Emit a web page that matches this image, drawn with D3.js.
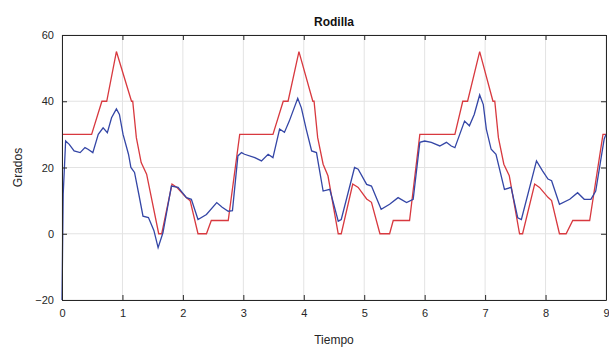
<!DOCTYPE html>
<html lang="es">
<head>
  <meta charset="UTF-8" />
  <title>Rodilla</title>
  <script src="https://d3js.org/d3.v7.min.js"></script>
  <style>
    body {
      margin: 0;
      background: #fff;
      font-family: "Liberation Sans", Arial, sans-serif;
    }
    .grid line { stroke: #e3e3e3; stroke-width: 1px; }
    .axis path, .axis line { stroke: #262626; }
    .axis text { fill: #262626; font-size: 11px; }
  </style>
</head>
<body>
  <svg id="chart" width="609" height="350"></svg>

  <script>
    // reference (desired) knee angle, red
    const refTime = [0, 0.49, 0.66, 0.74, 0.9, 1.15, 1.17, 1.23, 1.31, 1.4, 1.6, 1.65, 1.82, 1.9, 2.05, 2.12, 2.25, 2.39, 2.47, 2.75, 2.94,
      3.49, 3.66, 3.74, 3.92, 4.15, 4.17, 4.23, 4.32, 4.4, 4.57, 4.62, 4.81, 4.9, 5.04, 5.12, 5.26, 5.42, 5.48, 5.75, 5.92,
      6.5, 6.63, 6.71, 6.91, 7.13, 7.16, 7.22, 7.31, 7.4, 7.57, 7.62, 7.82, 7.9, 8.04, 8.1, 8.23, 8.34, 8.45, 8.73, 8.95, 9];
    const refAngle = [30, 30, 40, 40, 55, 40, 40, 29, 21.5, 18, 0, 0, 15, 14, 11, 10, 0, 0, 4, 4, 30,
      30, 40, 40, 55, 40, 40, 29, 21, 17.5, 0, 0, 15, 14, 10.5, 9.5, 0, 0, 4, 4, 30,
      30, 40, 40, 55, 40, 40, 29, 21, 17.5, 0, 0, 15, 14, 11, 10, 0, 0, 4, 4, 30, 30];

    // measured knee angle, blue
    const measTime = [0, 0.02, 0.06, 0.12, 0.2, 0.3, 0.38, 0.43, 0.51, 0.6, 0.68, 0.75, 0.82, 0.9, 0.95, 1.01, 1.1, 1.14, 1.2, 1.27, 1.34, 1.43, 1.52, 1.59, 1.67, 1.81, 1.92, 2.06, 2.14, 2.25, 2.39, 2.56, 2.65, 2.75, 2.82, 2.91, 2.97,
      3.02, 3.19, 3.3, 3.41, 3.49, 3.6, 3.68, 3.76, 3.9, 3.96, 4.04, 4.13, 4.21, 4.32, 4.43, 4.57, 4.62, 4.84, 4.9, 5.04, 5.12, 5.28, 5.42, 5.56, 5.7, 5.81, 5.92, 6.0,
      6.11, 6.25, 6.36, 6.44, 6.5, 6.66, 6.74, 6.82, 6.91, 6.97, 7.02, 7.1, 7.18, 7.32, 7.43, 7.54, 7.6, 7.85, 7.95, 8.04, 8.1, 8.23, 8.4, 8.53, 8.64, 8.75, 8.83, 8.97, 9];
    const measAngle = [-20, 12, 28, 27, 25, 24.5, 26, 25.5, 24.5, 30, 32, 30.5, 35, 37.7, 36, 30, 24, 20, 18.5, 12, 5.3, 4.9, 1, -4.2, 0.3, 14.4, 14, 10.9, 10.4, 4.3, 5.8, 9.4, 8, 6.8, 7, 23.5, 24.5,
      24, 23, 22, 24, 23, 31.6, 30.6, 34, 40.9, 38, 31.6, 25, 24.5, 12.9, 13.4, 3.8, 4.3, 20, 19.5, 14.9, 14.4, 7.4, 8.9, 10.9, 9.4, 10.4, 27.6, 28,
      27.6, 26.5, 27.6, 26.5, 26, 34, 32.6, 36, 41.9, 39, 31.6, 25.5, 24, 13.4, 14, 4.8, 4.3, 22, 19, 16.5, 16, 8.9, 10.4, 12.4, 10.4, 10.4, 12.9, 28.6, 30];

    const xTicks = [0, 1, 2, 3, 4, 5, 6, 7, 8, 9];
    const yTicks = [-20, 0, 20, 40, 60];

    const margin = { top: 35, right: 3, bottom: 50, left: 62 };
    const width = 609 - margin.left - margin.right;
    const height = 350 - margin.top - margin.bottom;

    const svg = d3.select("#chart");
    const g = svg.append("g").attr("transform", `translate(${margin.left},${margin.top})`);

    const x = d3.scaleLinear().domain([0, 9]).range([0, width]);
    const y = d3.scaleLinear().domain([-20, 60]).range([height, 0]);

    // grid
    g.append("g").attr("class", "grid")
      .selectAll("line.v").data(xTicks).enter().append("line")
      .attr("x1", d => x(d)).attr("x2", d => x(d))
      .attr("y1", 0).attr("y2", height);
    g.append("g").attr("class", "grid")
      .selectAll("line.h").data(yTicks).enter().append("line")
      .attr("x1", 0).attr("x2", width)
      .attr("y1", d => y(d)).attr("y2", d => y(d));

    const line = d3.line().x(d => x(d[0])).y(d => y(d[1]));

    const refData = refTime.map((t, i) => [t, refAngle[i]]);
    const measData = measTime.map((t, i) => [t, measAngle[i]]);

    g.append("path").datum(refData)
      .attr("d", line).attr("fill", "none")
      .attr("stroke", "#d8393f").attr("stroke-width", 1.3);

    g.append("path").datum(measData)
      .attr("d", line).attr("fill", "none")
      .attr("stroke", "#3446a6").attr("stroke-width", 1.3);

    // axes, matlab style (ticks inside, box on)
    g.append("g").attr("class", "axis")
      .attr("transform", `translate(0,${height})`)
      .call(d3.axisBottom(x).tickValues(xTicks).tickFormat(d3.format("d")).tickSizeInner(-5).tickSizeOuter(0).tickPadding(9));
    g.append("g").attr("class", "axis")
      .call(d3.axisLeft(y).tickValues(yTicks).tickSizeInner(-5).tickSizeOuter(0).tickPadding(8));
    g.append("g").attr("class", "axis")
      .call(d3.axisTop(x).tickValues(xTicks).tickFormat("").tickSizeInner(-5).tickSizeOuter(0));
    g.append("g").attr("class", "axis")
      .attr("transform", `translate(${width},0)`)
      .call(d3.axisRight(y).tickValues(yTicks).tickFormat("").tickSizeInner(-5).tickSizeOuter(0));

    // title and labels
    svg.append("text")
      .attr("x", margin.left + width / 2).attr("y", 26)
      .attr("text-anchor", "middle")
      .style("font-size", "12px").style("font-weight", "bold").style("fill", "#111")
      .text("Rodilla");

    svg.append("text")
      .attr("transform", `translate(22,${margin.top + height / 2}) rotate(-90)`)
      .attr("text-anchor", "middle")
      .style("font-size", "12px").style("fill", "#262626")
      .text("Grados");

    svg.append("text")
      .attr("x", margin.left + width / 2).attr("y", 344)
      .attr("text-anchor", "middle")
      .style("font-size", "12px").style("fill", "#262626")
      .text("Tiempo");
  </script>
</body>
</html>
